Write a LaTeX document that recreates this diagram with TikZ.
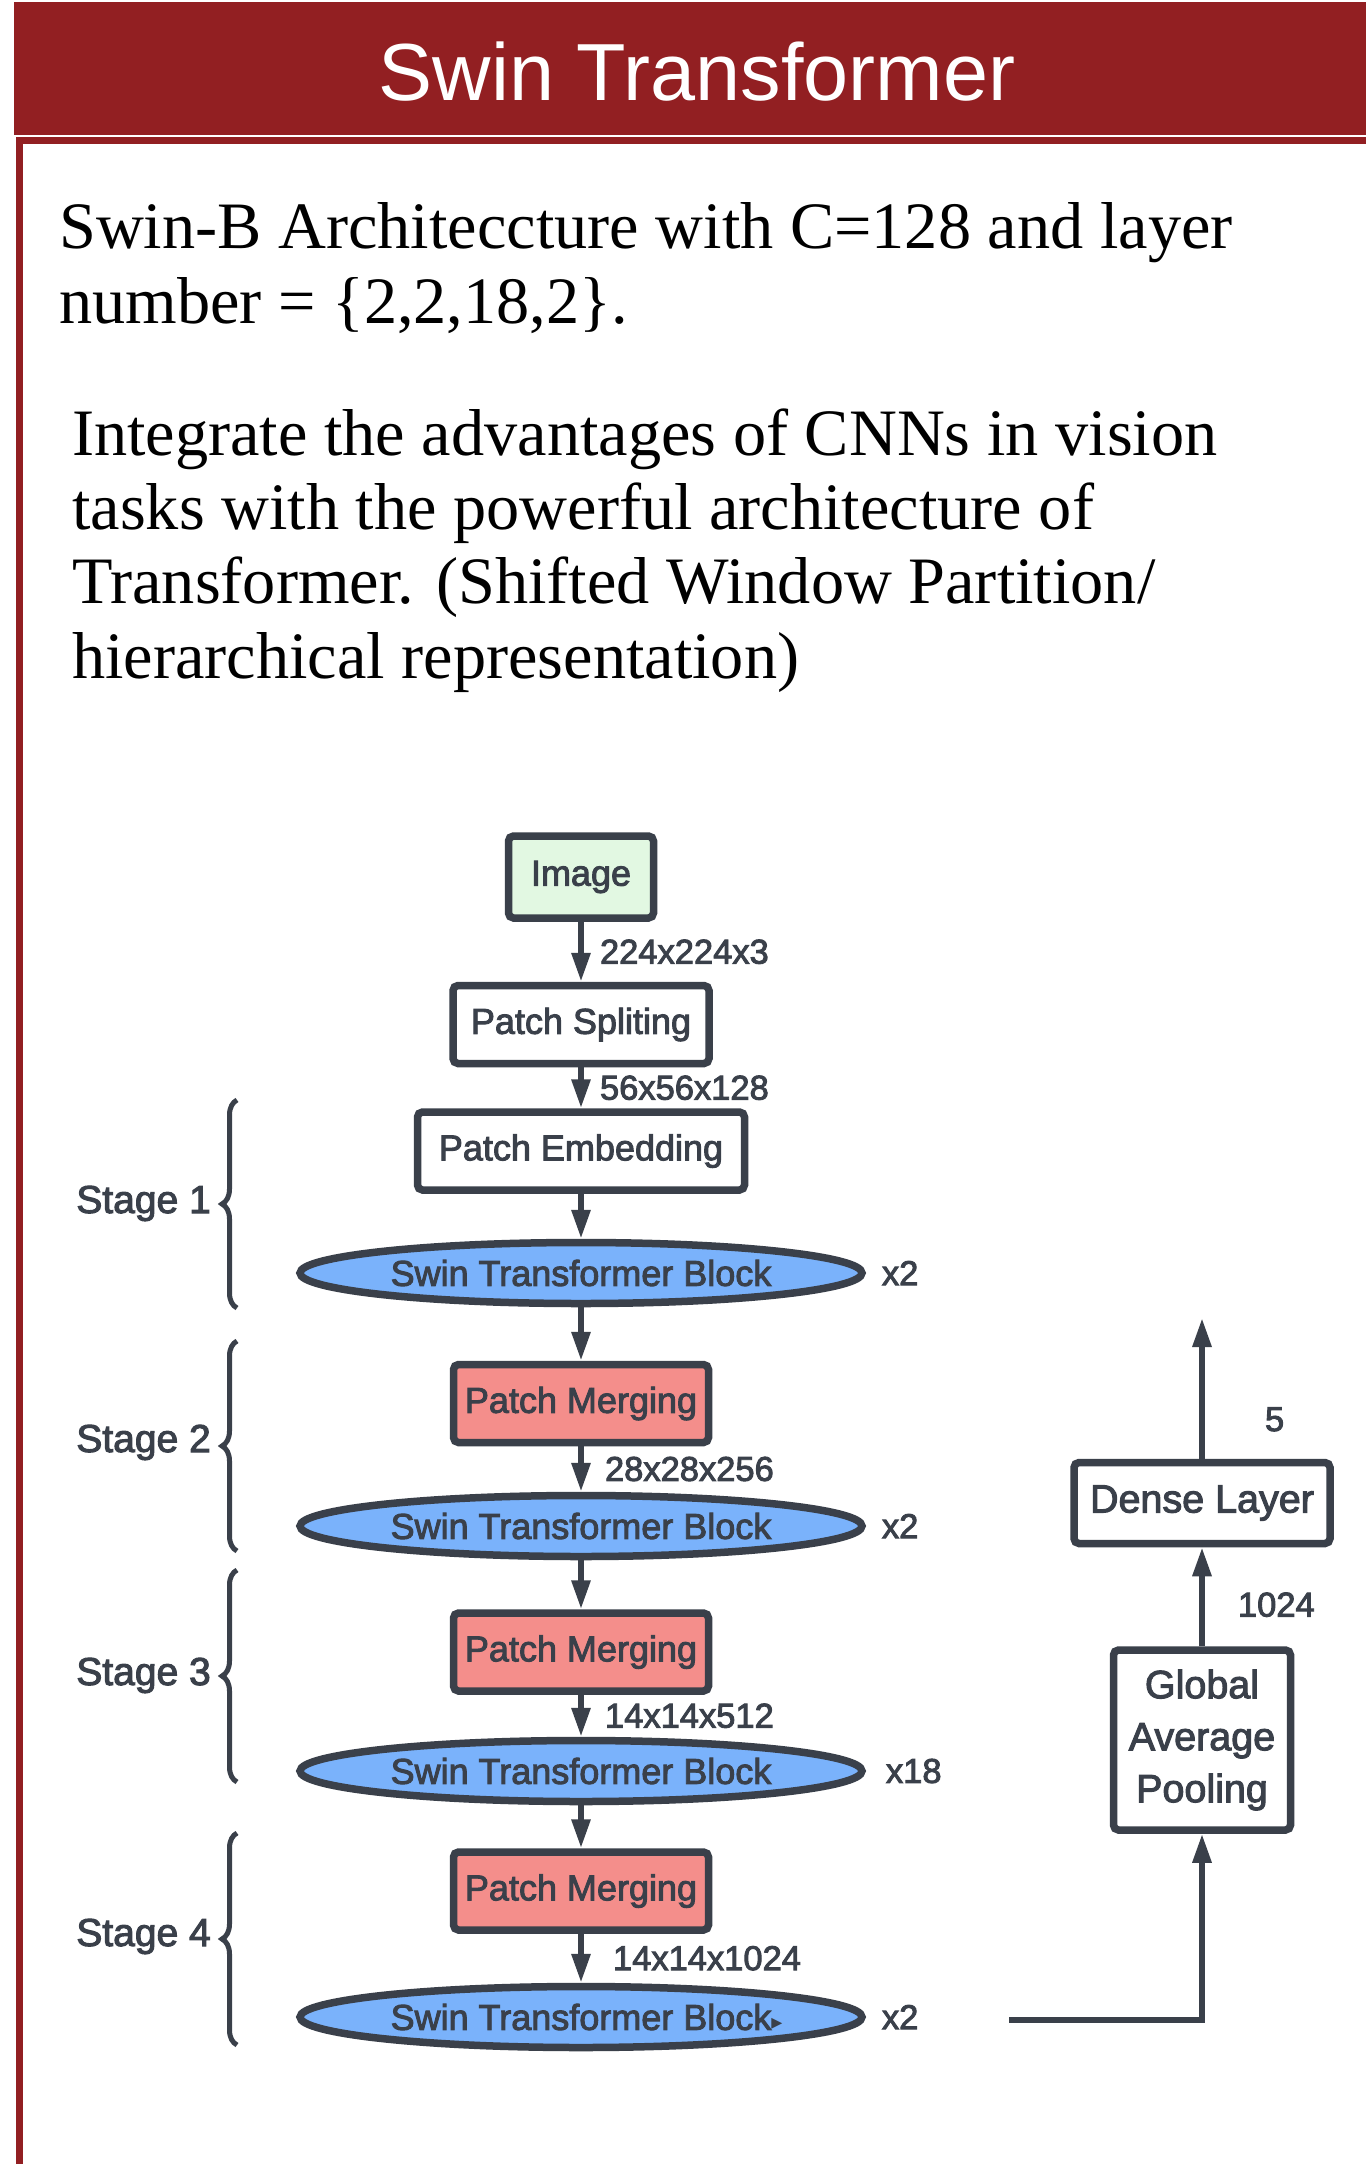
\documentclass[tikz,border=0pt]{standalone}
\usepackage{fontspec}
\setmainfont{Liberation Serif}
\setsansfont{Liberation Sans}
\newfontfamily\diagfont{Liberation Sans}[FakeBold=2.6]
\newfontfamily\trifont{DejaVu Sans}
\usetikzlibrary{shapes.geometric,arrows.meta,positioning,decorations.pathreplacing}
\definecolor{swinred}{HTML}{921F22}
\definecolor{inkdark}{HTML}{3A404A}
\definecolor{blockblue}{HTML}{7AB2FB}
\definecolor{mergered}{HTML}{F48E8B}
\definecolor{imagegreen}{HTML}{E2F8E2}
\newcommand{\pxfont}[2]{\fontsize{#1}{#2}\selectfont}

\begin{document}
\begin{tikzpicture}[x=1pt,y=-1pt]
  \tikzset{BoxStyle/.style = {
    shape           = rectangle,
    draw            = inkdark,
    fill            = white,
    line width      = 7.5pt,
    rounded corners = 5pt,
    text            = inkdark,
    font            = \diagfont\pxfont{36}{43},
    inner sep       = 0pt
    }
  }
  \tikzset{BlockStyle/.style = {
    shape          = ellipse,
    draw           = inkdark,
    fill           = blockblue,
    line width     = 7.5pt,
    text           = inkdark,
    font           = \diagfont\pxfont{36}{43},
    inner sep      = 0pt,
    minimum width  = 562pt,
    minimum height = 61pt
    }
  }
  \tikzset{FlowArrow/.style = {
    draw       = inkdark,
    line width = 6pt,
    -{Triangle[width=18pt,length=29pt]}
    }
  }
  \tikzset{DimLabel/.style = {
    anchor    = west,
    text      = inkdark,
    font      = \diagfont\pxfont{34.5}{40},
    inner sep = 0pt
    }
  }
  \tikzset{RepLabel/.style = {
    text      = inkdark,
    font      = \diagfont\pxfont{34.5}{40},
    inner sep = 0pt
    }
  }
  \tikzset{StageLabel/.style = {
    anchor    = base east,
    text      = inkdark,
    font      = \diagfont\pxfont{39}{46},
    inner sep = 0pt
    }
  }
  \tikzset{StageBrace/.style = {
    draw       = inkdark,
    line width = 5pt,
    decorate,
    decoration = {brace, amplitude=15pt, aspect=0.5}
    }
  }
  \tikzset{BodyText/.style = {
    anchor    = base west,
    text      = black,
    font      = \pxfont{66.3}{75},
    inner sep = 0pt
    }
  }

  \useasboundingbox (0,0) rectangle (1366,2164);
  \fill[white] (0,0) rectangle (1366,2164);

  % header band and frame
  \fill[swinred] (14,2) rectangle (1366,135);
  \fill[swinred] (16,137) rectangle (1366,144);
  \fill[swinred] (16,137) rectangle (23,2164);
  \node[anchor=base, inner sep=0pt, text=white, font=\sffamily\pxfont{81}{90}] (Title) at (697,100) {Swin Transformer};

  % description
  \node[BodyText] (DescA) at (59,248) {Swin-B Architeccture with C=128 and layer};
  \node[BodyText] (DescB) at (59,323) {number = \{2,2,18,2\}.};
  \node[BodyText] (NoteA) at (72,455) {Integrate the advantages of CNNs in vision};
  \node[BodyText] (NoteB) at (72,529) {tasks with the powerful architecture of};
  \node[BodyText] (NoteC) at (72,603) {Transformer. (Shifted Window Partition/};
  \node[BodyText] (NoteD) at (72,678) {hierarchical representation)};

  % main column
  \node[BoxStyle, fill=imagegreen, minimum width=145pt, minimum height=82pt] (Image) at (581,877) {Image};
  \node[BoxStyle, minimum width=256pt, minimum height=78pt] (PatchSplit) at (581,1024.5) {Patch Spliting};
  \node[BoxStyle, minimum width=327pt, minimum height=78pt] (PatchEmbed) at (581,1151) {Patch Embedding};
  \node[BlockStyle] (Blk1) at (581,1273) {Swin Transformer Block};
  \node[BoxStyle, fill=mergered, minimum width=255pt, minimum height=78pt] (Merge1) at (581,1403.5) {Patch Merging};
  \node[BlockStyle] (Blk2) at (581,1526) {Swin Transformer Block};
  \node[BoxStyle, fill=mergered, minimum width=255pt, minimum height=78pt] (Merge2) at (581,1652) {Patch Merging};
  \node[BlockStyle] (Blk3) at (581,1771) {Swin Transformer Block};
  \node[BoxStyle, fill=mergered, minimum width=255pt, minimum height=78pt] (Merge3) at (581,1891) {Patch Merging};
  \node[BlockStyle] (Blk4) at (581,2017) {Swin Transformer Block\rlap{\trifont\pxfont{22}{22}▸}};

  \node[RepLabel, right=16pt of Blk1] (Rep1) {x2};
  \node[RepLabel, right=16pt of Blk2] (Rep2) {x2};
  \node[RepLabel, right=20pt of Blk3] (Rep3) {x18};
  \node[RepLabel, right=16pt of Blk4] (Rep4) {x2};

  \draw[FlowArrow] (Image) -- node[DimLabel, xshift=16pt] (DimA) {224x224x3} (PatchSplit);
  \draw[FlowArrow] (PatchSplit) -- node[DimLabel, xshift=16pt] (DimB) {56x56x128} (PatchEmbed);
  \draw[FlowArrow] (PatchEmbed) -- (Blk1);
  \draw[FlowArrow] (Blk1) -- (Merge1);
  \draw[FlowArrow] (Merge1) -- node[DimLabel, xshift=21pt] (DimC) {28x28x256} (Blk2);
  \draw[FlowArrow] (Blk2) -- (Merge2);
  \draw[FlowArrow] (Merge2) -- node[DimLabel, xshift=21pt] (DimD) {14x14x512} (Blk3);
  \draw[FlowArrow] (Blk3) -- (Merge3);
  \draw[FlowArrow] (Merge3) -- node[DimLabel, xshift=29pt] (DimE) {14x14x1024} (Blk4);

  % stages
  \draw[StageBrace] (237,1308) -- (237,1100);
  \draw[StageBrace] (237,1551) -- (237,1341);
  \draw[StageBrace] (237,1782) -- (237,1570);
  \draw[StageBrace] (237,2045) -- (237,1833);
  \node[StageLabel] (Stage1) at (211,1213) {Stage 1};
  \node[StageLabel] (Stage2) at (211,1452) {Stage 2};
  \node[StageLabel] (Stage3) at (211,1685) {Stage 3};
  \node[StageLabel] (Stage4) at (211,1946) {Stage 4};

  % classifier head
  \node[BoxStyle, minimum width=256pt, minimum height=81pt, font=\diagfont\pxfont{39.5}{46}] (Dense) at (1202,1503) {Dense Layer};
  \node[BoxStyle, minimum width=177pt, minimum height=180pt, align=center, font=\diagfont\pxfont{39.5}{52}] (GAP) at (1202,1740) {Global\\Average\\Pooling};
  \coordinate (Out) at (1202,1318);
  \coordinate (FeedStart) at (1009,2020);

  \draw[FlowArrow] (FeedStart) -| (GAP);
  \draw[FlowArrow] (GAP) -- node[DimLabel, pos=0.42, xshift=33pt] (DimF) {1024} (Dense);
  \draw[FlowArrow] (Dense) -- node[DimLabel, pos=0.28, xshift=60pt] (DimG) {5} (Out);

\end{tikzpicture}
\end{document}
